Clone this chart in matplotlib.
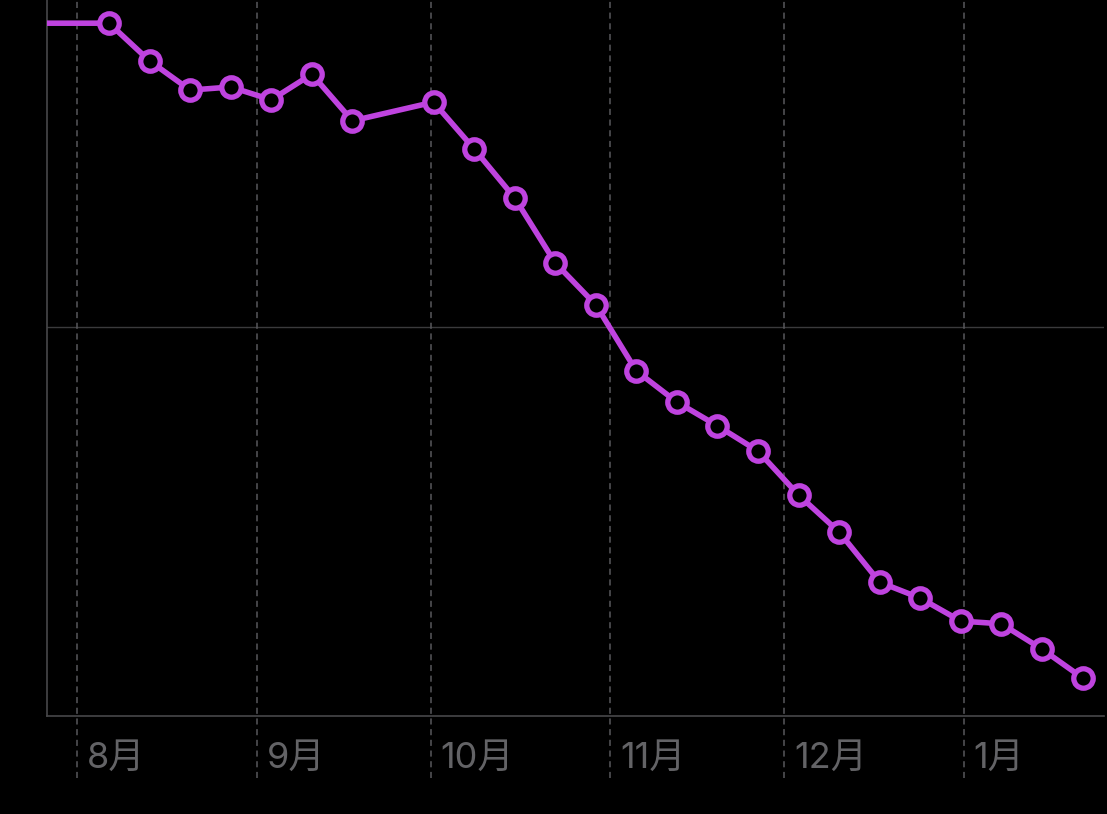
import matplotlib
matplotlib.use("Agg")
import matplotlib.pyplot as plt
import matplotlib.dates as mdates
import datetime as dt

# ---- data ----
dates = ["2023-07-23T12", "2023-08-06T12", "2023-08-13T12", "2023-08-20T12", "2023-08-27T12",
         "2023-09-03T12", "2023-09-10T12", "2023-09-17T12", "2023-10-01T12", "2023-10-08T12",
         "2023-10-15T12", "2023-10-22T12", "2023-10-29T12", "2023-11-05T12", "2023-11-12T12",
         "2023-11-19T12", "2023-11-26T12", "2023-12-03T12", "2023-12-10T12", "2023-12-17T12",
         "2023-12-24T12", "2023-12-31T12", "2024-01-07T12", "2024-01-14T12", "2024-01-21T12"]
values = [77.81, 77.81, 76.84, 76.09, 76.17, 75.84, 76.50, 75.30, 75.78, 74.58, 73.32, 71.65,
          70.57, 68.87, 68.07, 67.46, 66.81, 65.68, 64.73, 63.44, 63.03, 62.44, 62.37, 61.72,
          60.98]
month_starts = ["2023-08-01", "2023-09-01", "2023-10-01", "2023-11-01", "2023-12-01", "2024-01-01"]
month_labels = ["8月", "9月", "10月", "11月", "12月", "1月"]
y_grid = [70]

W, H = 1107, 814
fig = plt.figure(figsize=(W / 100, H / 100), dpi=100, facecolor="black")
ax = fig.add_axes([47 / W, (H - 716) / H, (1104 - 47) / W, 716 / H])
ax.set_facecolor("black")

x = [dt.datetime.fromisoformat(d) for d in dates]
ax.plot(x, values, color="#BF43DF", lw=4.0, marker="o", markersize=14.0,
        markerfacecolor="black", markeredgecolor="#BF43DF", markeredgewidth=3.8,
        zorder=5, solid_joinstyle="round")

ax.set_xlim(dt.datetime(2023, 7, 26, 19), dt.datetime(2024, 1, 25, 5))
ax.set_ylim(60, 60 + 716 / 38.9)

for g in y_grid:
    ax.axhline(g, color="#3a3a3c", lw=1.0, zorder=1)

ymin_ext = -(778 - 716) / 716
for d, lab in zip(month_starts, month_labels):
    dd = dt.datetime.fromisoformat(d)
    ax.axvline(dd, ymin=ymin_ext, ymax=1, color="#58585c", lw=1.1,
               linestyle=(0, (4, 3)), clip_on=False, zorder=1)
    ax.annotate(lab, xy=(mdates.date2num(dd), 0), xycoords=("data", "axes fraction"),
                xytext=(7, -30.5), textcoords="offset points", ha="left", va="center",
                fontsize=26, color="#636366", family=["Inter", "Noto Sans CJK JP"])

for s in ["top", "right"]:
    ax.spines[s].set_visible(False)
for s in ["left", "bottom"]:
    ax.spines[s].set_color("#48484a")
    ax.spines[s].set_linewidth(1.2)
ax.set_xticks([])
ax.set_yticks([])

fig.savefig("out.png", dpi=100, facecolor="black")
